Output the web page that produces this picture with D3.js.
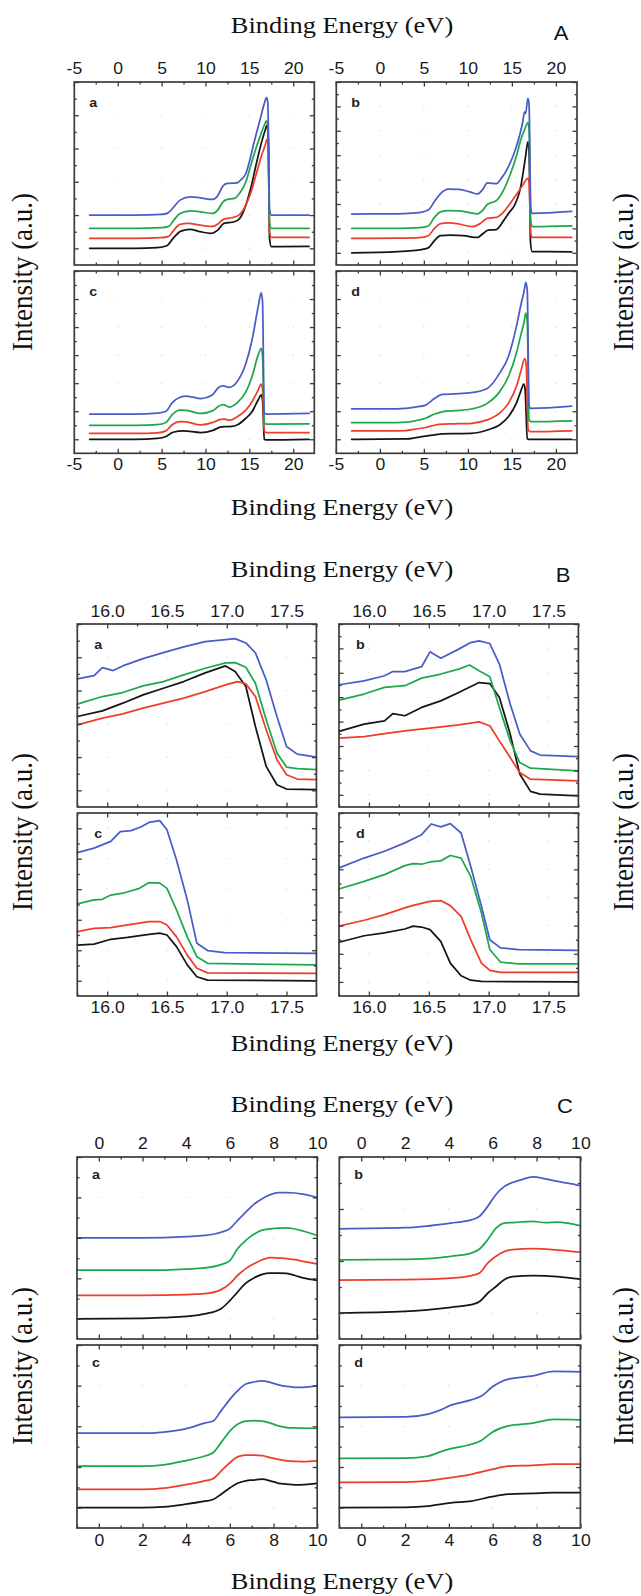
<!DOCTYPE html>
<html>
<head>
<meta charset="utf-8">
<script src="https://cdn.jsdelivr.net/npm/d3@7"></script>
<style>
  html, body { margin: 0; padding: 0; background: #fff; }
  svg { display: block; }
</style>
</head>
<body>
<svg id="chart" width="641" height="1596"></svg>
<script>
// ---------------- DATA ----------------
const seriesOrder = ["black", "red", "green", "blue"];
const seriesColors = { black: "#151515", red: "#ef3d2c", green: "#1ea84b", blue: "#4a5cc6" };

// Section A : full valence band (-5 .. 22 eV)
const A_xTicks = [-5, 0, 5, 10, 15, 20];
const A_xMinor = [-2.5, 2.5, 7.5, 12.5, 17.5];
const A_a_blue  = [[-3.2,1.0],[2,1.0],[5,1.02],[5.7,1.06],[6.4,1.25],[7.1,1.45],[8.3,1.55],[9.4,1.52],[10.8,1.47],[11.4,1.58],[12.0,1.88],[12.5,1.95],[13.6,1.97],[14.0,2.05],[14.6,2.25],[15.0,2.6],[15.5,3.15],[16.2,3.85],[16.7,4.35],[16.95,4.53],[17.1,4.4],[17.3,1.2],[17.5,1.0],[21.8,1.0]];
const A_a_green = [[-3.2,0.6],[2,0.6],[5,0.62],[5.8,0.66],[6.4,0.85],[7.1,1.05],[8.3,1.13],[9.4,1.1],[10.8,1.05],[11.4,1.15],[12.0,1.4],[12.5,1.47],[13.3,1.5],[14.0,1.7],[14.6,2.0],[15.0,2.35],[15.5,2.8],[16.2,3.35],[16.7,3.7],[16.95,3.83],[17.1,3.7],[17.3,0.8],[17.5,0.6],[21.8,0.6]];
const A_a_red   = [[-3.2,0.3],[2,0.3],[5,0.32],[5.8,0.36],[6.4,0.55],[7.1,0.72],[8.0,0.75],[9.4,0.7],[10.8,0.66],[11.5,0.75],[12.1,0.88],[13.0,0.92],[13.8,1.0],[14.6,1.3],[15.2,1.7],[15.8,2.25],[16.4,2.8],[16.8,3.1],[17.0,3.27],[17.15,3.1],[17.3,0.5],[17.5,0.33],[21.8,0.33]];
const A_a_black = [[-3.2,0],[2,0],[4.5,0.02],[5.6,0.08],[6.3,0.3],[7.2,0.52],[8.2,0.57],[9.4,0.5],[10.6,0.45],[11.4,0.55],[12.1,0.75],[13.3,0.8],[13.9,0.9],[14.6,1.3],[15.2,1.85],[15.8,2.55],[16.4,3.2],[16.8,3.55],[17.0,3.7],[17.15,3.4],[17.3,0.3],[17.5,0.05],[21.8,0.06]];

const A_b_blue  = [[-3.2,1.59],[2,1.6],[4.5,1.65],[5.5,1.75],[6.2,2.1],[6.9,2.43],[7.8,2.61],[9.0,2.6],[10.2,2.5],[11.1,2.41],[11.7,2.6],[12.2,2.87],[12.7,2.85],[13.2,2.83],[13.8,3.05],[14.6,3.52],[15.5,4.34],[16.2,5.3],[16.45,5.78],[16.55,5.7],[16.82,6.33],[16.95,6.1],[17.15,1.8],[17.3,1.62],[21.8,1.7]];
const A_b_green = [[-3.2,1.0],[2,1.0],[4.5,1.03],[5.5,1.1],[6.2,1.45],[6.9,1.68],[7.8,1.73],[9.0,1.72],[10.2,1.65],[11.1,1.6],[11.7,1.75],[12.2,1.98],[13.3,2.16],[14.1,2.6],[14.8,3.2],[15.6,4.07],[16.0,4.62],[16.4,5.0],[16.82,5.33],[16.95,5.1],[17.15,1.3],[17.3,1.07],[21.8,1.1]];
const A_b_red   = [[-3.2,0.59],[2,0.6],[4.5,0.62],[5.5,0.7],[6.2,1.0],[6.9,1.2],[7.8,1.23],[9.0,1.18],[10.5,1.07],[11.4,1.2],[12.2,1.41],[13.2,1.45],[14.0,1.65],[14.8,2.02],[15.6,2.43],[16.2,2.75],[16.82,3.05],[16.95,2.9],[17.15,0.8],[17.3,0.63],[21.8,0.63]];
const A_b_black = [[-3.2,0],[2,0.05],[4.5,0.12],[5.5,0.2],[6.2,0.5],[6.9,0.7],[8,0.72],[9.5,0.7],[11.1,0.63],[11.7,0.78],[12.3,0.93],[13.2,0.95],[14.1,1.34],[14.8,1.7],[15.2,1.88],[16.0,2.7],[16.55,3.93],[16.82,4.55],[16.95,4.2],[17.12,0.4],[17.3,0.05],[21.8,0.04]];

const A_c_blue  = [[-3.2,0.9],[2,0.9],[4.5,0.93],[5.5,1.0],[6.2,1.3],[7.1,1.5],[7.8,1.54],[8.6,1.5],[9.45,1.45],[10.2,1.5],[10.85,1.6],[11.5,1.85],[12.0,1.9],[12.7,1.85],[13.6,2.05],[14.6,2.7],[15.3,3.53],[16.0,4.72],[16.35,5.22],[16.5,4.9],[16.7,0.95],[16.9,0.9],[21.8,0.92]];
const A_c_green = [[-3.2,0.5],[2,0.5],[4.5,0.52],[5.5,0.6],[6.2,0.88],[7.1,1.04],[7.8,1.03],[9.45,0.92],[10.85,1.02],[11.5,1.18],[12.0,1.24],[12.7,1.15],[13.6,1.3],[14.6,1.69],[15.3,2.23],[16.0,3.0],[16.35,3.24],[16.5,3.0],[16.7,0.6],[16.9,0.54],[21.8,0.55]];
const A_c_red   = [[-3.2,0.21],[2,0.21],[4.5,0.23],[5.5,0.3],[6.2,0.52],[7.1,0.63],[7.8,0.62],[9.45,0.51],[10.85,0.6],[11.6,0.7],[12.1,0.72],[12.8,0.68],[13.6,0.8],[14.6,1.04],[15.3,1.34],[16.0,1.75],[16.35,1.97],[16.5,1.8],[16.7,0.3],[16.9,0.24],[21.8,0.24]];
const A_c_black = [[-3.2,0],[2,0],[4.5,0.03],[5.5,0.1],[6.3,0.25],[7.5,0.3],[9.45,0.24],[10.85,0.32],[11.7,0.43],[12.2,0.45],[13.0,0.46],[13.6,0.51],[14.6,0.75],[15.3,0.98],[16.0,1.4],[16.35,1.58],[16.5,1.4],[16.7,0.0],[16.9,-0.02],[21.8,0]];

const A_d_blue  = [[-3.2,1.08],[1,1.08],[2.9,1.1],[4.0,1.15],[5.2,1.22],[6.2,1.45],[7.1,1.6],[8.5,1.62],[10.4,1.66],[12.2,1.81],[13.6,2.35],[14.6,2.94],[15.5,4.0],[16.06,4.84],[16.4,5.3],[16.58,5.59],[16.75,5.3],[16.95,1.2],[17.15,1.1],[21.8,1.18]];
const A_d_green = [[-3.2,0.59],[1,0.59],[2.9,0.61],[4,0.66],[5.2,0.75],[6.2,0.9],[7.1,0.98],[8.5,1.02],[10.4,1.08],[12.2,1.28],[13.6,1.69],[14.6,2.23],[15.5,3.06],[16.06,3.77],[16.4,4.2],[16.58,4.5],[16.75,4.2],[16.95,0.7],[17.15,0.63],[21.8,0.66]];
const A_d_red   = [[-3.2,0.3],[1,0.3],[2.9,0.31],[4,0.36],[5.2,0.42],[6.2,0.5],[7.1,0.54],[8.5,0.55],[10.4,0.57],[12.2,0.69],[13.6,0.93],[14.6,1.28],[15.5,1.87],[16.06,2.47],[16.45,2.88],[16.62,2.7],[16.85,0.35],[17.05,0.27],[21.8,0.3]];
const A_d_black = [[-3.2,0],[2.9,0.01],[4.5,0.08],[6.2,0.16],[7.1,0.19],[8.5,0.2],[10.4,0.21],[12.2,0.33],[13.6,0.51],[14.6,0.8],[15.5,1.28],[16.0,1.7],[16.35,1.97],[16.5,1.8],[16.75,0.02],[16.95,0],[21.8,0]];

// Section B : cut-off region (15.75 .. 17.75 eV)
const B_xTicks = [16.0, 16.5, 17.0, 17.5];
const B_xMinor = [15.75, 16.25, 16.75, 17.25, 17.75];
const B_a_blue  = [[15.75,3.35],[15.89,3.45],[15.96,3.69],[16.05,3.6],[16.13,3.74],[16.3,3.96],[16.47,4.14],[16.64,4.31],[16.82,4.47],[16.99,4.53],[17.07,4.56],[17.16,4.43],[17.24,4.13],[17.33,3.32],[17.42,2.22],[17.5,1.32],[17.59,1.09],[17.75,1.0]];
const B_a_green = [[15.75,2.59],[15.96,2.82],[16.13,2.94],[16.3,3.14],[16.47,3.27],[16.64,3.47],[16.82,3.67],[16.99,3.83],[17.07,3.84],[17.16,3.7],[17.24,3.22],[17.33,2.12],[17.42,1.12],[17.5,0.7],[17.59,0.65],[17.75,0.62]];
const B_a_red   = [[15.75,1.97],[15.96,2.17],[16.13,2.3],[16.3,2.47],[16.47,2.62],[16.64,2.77],[16.82,2.97],[16.99,3.17],[17.09,3.27],[17.16,3.2],[17.24,2.82],[17.33,1.82],[17.42,0.92],[17.5,0.47],[17.59,0.34],[17.75,0.32]];
const B_a_black = [[15.75,2.22],[15.96,2.39],[16.13,2.62],[16.3,2.87],[16.47,3.07],[16.64,3.27],[16.82,3.53],[16.99,3.74],[17.07,3.57],[17.16,3.12],[17.24,1.92],[17.33,0.72],[17.42,0.17],[17.5,0.04],[17.75,0.02]];

const B_b_blue  = [[15.75,4.51],[15.96,4.67],[16.13,4.88],[16.2,5.05],[16.3,5.05],[16.44,5.25],[16.51,5.86],[16.6,5.6],[16.75,5.97],[16.85,6.24],[16.92,6.31],[17.01,6.2],[17.09,5.36],[17.18,3.72],[17.26,2.49],[17.35,1.8],[17.43,1.63],[17.75,1.56]];
const B_b_green = [[15.75,3.88],[15.96,4.13],[16.13,4.4],[16.3,4.47],[16.44,4.78],[16.6,4.95],[16.75,5.15],[16.84,5.32],[16.92,5.08],[17.01,4.84],[17.09,3.58],[17.18,2.21],[17.26,1.32],[17.35,1.09],[17.75,0.98]];
const B_b_red   = [[15.75,2.32],[15.96,2.38],[16.13,2.51],[16.3,2.62],[16.51,2.73],[16.75,2.87],[16.92,2.99],[17.01,2.83],[17.09,2.21],[17.18,1.53],[17.26,0.91],[17.35,0.64],[17.75,0.57]];
const B_b_black = [[15.75,2.6],[15.96,2.9],[16.13,3.03],[16.2,3.33],[16.3,3.24],[16.44,3.58],[16.6,3.85],[16.75,4.19],[16.92,4.6],[17.01,4.56],[17.09,3.99],[17.18,2.49],[17.26,0.85],[17.35,0.14],[17.43,0.03],[17.75,-0.04]];

const B_c_blue  = [[15.75,4.2],[15.89,4.35],[16.03,4.57],[16.11,4.89],[16.2,4.92],[16.28,5.04],[16.35,5.19],[16.44,5.25],[16.5,4.95],[16.58,3.96],[16.67,2.65],[16.75,1.23],[16.84,0.99],[16.98,0.92],[17.75,0.9]];
const B_c_green = [[15.75,2.52],[15.89,2.65],[15.96,2.67],[16.03,2.81],[16.13,2.87],[16.27,3.03],[16.35,3.22],[16.44,3.2],[16.5,3.03],[16.58,2.32],[16.67,1.44],[16.75,0.79],[16.84,0.57],[17.75,0.52]];
const B_c_red   = [[15.75,1.61],[15.89,1.72],[16.03,1.74],[16.17,1.83],[16.35,1.94],[16.44,1.94],[16.5,1.83],[16.58,1.44],[16.67,0.84],[16.75,0.41],[16.84,0.26],[17.75,0.24]];
const B_c_black = [[15.75,1.17],[15.89,1.2],[16.03,1.36],[16.17,1.42],[16.35,1.52],[16.44,1.56],[16.5,1.5],[16.58,1.12],[16.67,0.52],[16.75,0.13],[16.84,0.02],[17.75,0]];

const B_d_blue  = [[15.75,4.05],[15.96,4.4],[16.13,4.64],[16.3,4.94],[16.44,5.23],[16.52,5.61],[16.6,5.51],[16.68,5.62],[16.77,5.29],[16.85,4.11],[16.94,2.69],[17.01,1.5],[17.1,1.21],[17.25,1.15],[17.75,1.12]];
const B_d_green = [[15.75,3.3],[15.96,3.57],[16.13,3.81],[16.3,4.13],[16.37,4.2],[16.44,4.18],[16.51,4.26],[16.6,4.3],[16.68,4.49],[16.77,4.4],[16.85,3.75],[16.94,2.45],[17.01,1.15],[17.1,0.7],[17.25,0.64],[17.75,0.64]];
const B_d_red   = [[15.75,1.98],[15.96,2.19],[16.13,2.39],[16.3,2.63],[16.37,2.72],[16.51,2.86],[16.6,2.89],[16.68,2.71],[16.77,2.33],[16.85,1.5],[16.94,0.67],[17.01,0.41],[17.1,0.34],[17.75,0.34]];
const B_d_black = [[15.75,1.41],[15.96,1.64],[16.13,1.74],[16.3,1.88],[16.37,1.98],[16.44,1.95],[16.51,1.86],[16.6,1.44],[16.68,0.67],[16.77,0.22],[16.85,0.06],[16.94,0.02],[17.75,0]];

// Section C : valence band edge (-1 .. 10 eV)
const C_xTicks = [0, 2, 4, 6, 8, 10];
const C_xMinor = [-1, 1, 3, 5, 7, 9];
const C_a_blue  = [[-1,2.0],[2,2.0],[4,2.03],[4.85,2.06],[5.6,2.14],[6.0,2.23],[6.35,2.43],[6.73,2.64],[7.1,2.83],[7.48,2.97],[7.85,3.07],[8.23,3.12],[8.6,3.12],[8.98,3.11],[9.35,3.08],[10,3.0]];
const C_a_green = [[-1,1.2],[2,1.2],[4,1.23],[4.85,1.26],[5.6,1.34],[6.0,1.44],[6.35,1.73],[6.73,1.94],[7.1,2.09],[7.48,2.19],[7.85,2.22],[8.23,2.24],[8.6,2.25],[8.98,2.22],[9.35,2.17],[10,2.06]];
const C_a_red   = [[-1,0.58],[2,0.58],[4,0.6],[4.85,0.62],[5.6,0.72],[6.0,0.87],[6.35,1.07],[6.73,1.24],[7.1,1.36],[7.48,1.46],[7.85,1.51],[8.23,1.5],[8.6,1.49],[8.98,1.46],[9.35,1.42],[10,1.36]];
const C_a_black = [[-1,0],[2,0.01],[3,0.03],[4,0.06],[4.85,0.12],[5.6,0.25],[6.0,0.45],[6.35,0.66],[6.73,0.88],[7.1,1.01],[7.48,1.1],[7.85,1.13],[8.23,1.13],[8.6,1.12],[8.98,1.07],[9.35,1.01],[10,0.95]];

const C_b_blue  = [[-1,1.62],[2,1.64],[4.09,1.73],[5.02,1.79],[5.4,1.86],[5.77,2.05],[6.15,2.28],[6.52,2.43],[6.9,2.51],[7.27,2.56],[7.84,2.62],[8.4,2.58],[8.96,2.53],[9.53,2.49],[10,2.45]];
const C_b_green = [[-1,1.02],[2,1.03],[4.09,1.09],[5.02,1.15],[5.4,1.23],[5.77,1.41],[6.15,1.63],[6.52,1.73],[6.9,1.74],[7.27,1.75],[7.84,1.76],[8.4,1.74],[8.96,1.75],[9.53,1.72],[10,1.68]];
const C_b_red   = [[-1,0.63],[2,0.64],[4.09,0.67],[5.02,0.72],[5.4,0.77],[5.77,0.96],[6.15,1.09],[6.52,1.18],[6.9,1.22],[7.84,1.24],[8.96,1.21],[10,1.17]];
const C_b_black = [[-1,0],[2,0.03],[4.09,0.11],[5.02,0.16],[5.4,0.22],[5.77,0.38],[6.15,0.51],[6.52,0.64],[6.9,0.7],[7.84,0.72],[8.96,0.7],[10,0.65]];

const C_c_blue  = [[-1,1.83],[2,1.83],[2.97,1.86],[3.91,1.93],[4.85,2.08],[5.23,2.13],[5.6,2.38],[6.01,2.67],[6.35,2.87],[6.73,3.04],[7.1,3.09],[7.48,3.12],[7.85,3.08],[8.23,3.02],[8.6,2.98],[8.98,2.96],[9.35,2.96],[10,3.0]];
const C_c_green = [[-1,1.02],[2,1.02],[2.97,1.05],[3.91,1.15],[4.85,1.27],[5.23,1.35],[5.6,1.6],[6.01,1.89],[6.35,2.05],[6.73,2.13],[7.1,2.14],[7.48,2.13],[7.85,2.08],[8.23,2.01],[8.6,1.97],[8.98,1.96],[10,1.95]];
const C_c_red   = [[-1,0.45],[2,0.45],[2.97,0.48],[3.91,0.56],[4.85,0.66],[5.23,0.71],[5.6,0.9],[6.01,1.11],[6.35,1.25],[6.73,1.29],[7.1,1.29],[7.48,1.28],[7.85,1.23],[8.6,1.15],[9.35,1.13],[10,1.15]];
const C_c_black = [[-1,0],[2,0],[2.97,0.02],[3.91,0.08],[4.85,0.16],[5.23,0.2],[5.6,0.33],[6.01,0.49],[6.35,0.6],[6.73,0.66],[7.1,0.68],[7.48,0.7],[7.85,0.66],[8.23,0.6],[8.6,0.58],[8.98,0.56],[10,0.6]];

const C_d_blue  = [[-1,2.22],[2.02,2.23],[3.05,2.3],[3.6,2.4],[4.09,2.52],[5.02,2.65],[5.5,2.75],[5.96,2.96],[6.71,3.16],[7.84,3.24],[8.78,3.35],[10,3.34]];
const C_d_green = [[-1,1.21],[2.02,1.22],[3.05,1.27],[3.6,1.37],[4.09,1.45],[5.02,1.56],[5.5,1.66],[5.96,1.85],[6.71,2.01],[7.84,2.08],[8.78,2.17],[10,2.16]];
const C_d_red   = [[-1,0.62],[2.02,0.63],[3.05,0.66],[4.09,0.74],[5.02,0.82],[5.96,0.94],[6.71,1.02],[7.84,1.04],[8.78,1.07],[10,1.07]];
const C_d_black = [[-1,0],[2.02,0.01],[3.05,0.04],[4.09,0.12],[5.02,0.16],[5.96,0.27],[6.71,0.33],[7.84,0.35],[8.78,0.37],[10,0.37]];

const panelLetters = ["a", "b", "c", "d"];
const xTitle = "Binding Energy (eV)";
const yTitle = "Intensity (a.u.)";

// ---------------- LAYOUT / DRAWING ----------------
const svg = d3.select("#chart");
const SERIF = "'Liberation Serif','Times New Roman',serif";
const SANS = "'Liberation Sans',Arial,sans-serif";
const STRETCH = 1.1;

const sections = [
  { name: "A", xDomain: [-4.95, 22.4], xTicks: A_xTicks, xMinor: A_xMinor, fmt: d => String(d), curve: d3.curveMonotoneX,
    cols: [[74.3, 314.3], [336.3, 577]], rows: [[82, 265], [271, 453.3]],
    yDomains: [[-0.5, 5], [-0.5, 7], [-0.5, 6], [-0.5, 6]],
    data: [{blue:A_a_blue,green:A_a_green,red:A_a_red,black:A_a_black},{blue:A_b_blue,green:A_b_green,red:A_b_red,black:A_b_black},
           {blue:A_c_blue,green:A_c_green,red:A_c_red,black:A_c_black},{blue:A_d_blue,green:A_d_green,red:A_d_red,black:A_d_black}],
    titleTop: 33, titleBottom: 515, letterX: 561, letterY: 39.5, labelY: 272, topPad: 7.7, botPad: 5.5, letterDy: 24.5, letterDx: 15 },
  { name: "B", xDomain: [15.75, 17.75], xTicks: B_xTicks, xMinor: B_xMinor, fmt: d3.format(".1f"), curve: d3.curveLinear,
    cols: [[77.3, 316.4], [339, 578.4]], rows: [[624, 807], [813, 996]],
    yDomains: [[-0.5, 5], [-0.5, 7], [-0.5, 5.5], [-0.5, 6]],
    data: [{blue:B_a_blue,green:B_a_green,red:B_a_red,black:B_a_black},{blue:B_b_blue,green:B_b_green,red:B_b_red,black:B_b_black},
           {blue:B_c_blue,green:B_c_green,red:B_c_red,black:B_c_black},{blue:B_d_blue,green:B_d_green,red:B_d_red,black:B_d_black}],
    titleTop: 576.7, titleBottom: 1051, letterX: 563, letterY: 581.7, labelY: 832, topPad: 7.3, botPad: 6, letterDy: 25, letterDx: 17 },
  { name: "C", xDomain: [-1, 10], xTicks: C_xTicks, xMinor: C_xMinor, fmt: d => String(d), curve: d3.curveMonotoneX,
    cols: [[77, 317.2], [339.3, 580.4]], rows: [[1157, 1339], [1345, 1528]],
    yDomains: [[-0.5, 4], [-0.5, 3], [-0.5, 4], [-0.5, 4]],
    data: [{blue:C_a_blue,green:C_a_green,red:C_a_red,black:C_a_black},{blue:C_b_blue,green:C_b_green,red:C_b_red,black:C_b_black},
           {blue:C_c_blue,green:C_c_green,red:C_c_red,black:C_c_black},{blue:C_d_blue,green:C_d_green,red:C_d_red,black:C_d_black}],
    titleTop: 1111.7, titleBottom: 1589, letterX: 565, letterY: 1113, labelY: 1366, topPad: 8, botPad: 6.7, letterDy: 21.5, letterDx: 15 }
];

const FRAME = "#3b3b3b";
const MAJ = 4.5, MIN = 2.5;

function styleAxis(a, withLabels) {
  a.select(".domain").remove();
  a.selectAll(".tick line").attr("stroke", FRAME).attr("stroke-width", 1.3);
  if (withLabels) {
    a.attr("font-family", SANS).attr("font-size", 16);
    a.selectAll(".tick text").attr("fill", "#1a1a1a").attr("transform", `scale(${STRETCH},1)`);
  } else {
    a.selectAll(".tick text").remove();
  }
}

function addAxis(g, axisGen, scale, vals, size, tr, labels, fmt, pad) {
  const ax = axisGen(scale).tickValues(vals).tickSize(-size).tickSizeOuter(0).tickPadding(pad || 0);
  ax.tickFormat(labels ? fmt : () => "");
  const a = g.append("g").attr("transform", tr).call(ax);
  styleAxis(a, labels);
}

sections.forEach(sec => {
  const root = svg.append("g").attr("class", "section-" + sec.name);
  for (let i = 0; i < 4; i++) {
    const col = sec.cols[i % 2], row = sec.rows[Math.floor(i / 2)];
    const yd = sec.yDomains[i];
    const x = d3.scaleLinear().domain(sec.xDomain).range(col);
    const y = d3.scaleLinear().domain(yd).range([row[1], row[0]]);
    const g = root.append("g");
    const yMaj = d3.range(Math.ceil(yd[0]), yd[1] + 1e-9, 1);
    const yMinorVals = d3.range(Math.ceil(yd[0]) - 0.5, yd[1], 1).filter(v => v > yd[0] && v < yd[1]);

    // faint grid dots at major intersections
    const dots = [];
    sec.xTicks.forEach(xv => { if (xv > sec.xDomain[0] && xv < sec.xDomain[1]) yMaj.forEach(yv => { if (yv > yd[0] && yv < yd[1]) dots.push([xv, yv]); }); });
    g.selectAll("circle.grid").data(dots).join("circle").attr("class", "grid")
      .attr("cx", d => x(d[0])).attr("cy", d => y(d[1])).attr("r", 0.8).attr("fill", "#d3e3ea");

    // curves
    const line = d3.line().x(d => x(d[0])).y(d => y(d[1])).curve(sec.curve);
    seriesOrder.forEach(s => {
      g.append("path").datum(sec.data[i][s]).attr("d", line)
        .attr("fill", "none").attr("stroke", seriesColors[s]).attr("stroke-width", 1.75)
        .attr("stroke-linejoin", "round").attr("stroke-linecap", "round");
    });

    const isTop = i < 2;
    addAxis(g, d3.axisTop, x, sec.xTicks, MAJ, `translate(0,${row[0]})`, isTop, sec.fmt, sec.topPad);
    addAxis(g, d3.axisTop, x, sec.xMinor, MIN, `translate(0,${row[0]})`, false);
    addAxis(g, d3.axisBottom, x, sec.xTicks, MAJ, `translate(0,${row[1]})`, !isTop, sec.fmt, sec.botPad);
    addAxis(g, d3.axisBottom, x, sec.xMinor, MIN, `translate(0,${row[1]})`, false);
    addAxis(g, d3.axisLeft, y, yMaj, MAJ, `translate(${col[0]},0)`, false);
    addAxis(g, d3.axisLeft, y, yMinorVals, MIN, `translate(${col[0]},0)`, false);
    addAxis(g, d3.axisRight, y, yMaj, MAJ, `translate(${col[1]},0)`, false);
    addAxis(g, d3.axisRight, y, yMinorVals, MIN, `translate(${col[1]},0)`, false);

    g.append("rect").attr("x", col[0]).attr("y", row[0]).attr("width", col[1] - col[0]).attr("height", row[1] - row[0])
      .attr("fill", "none").attr("stroke", FRAME).attr("stroke-width", 1.7);

    g.append("text").attr("transform", `translate(${col[0] + sec.letterDx},${row[0] + sec.letterDy}) scale(${STRETCH},1)`)
      .attr("font-family", SANS).attr("font-weight", "bold").attr("font-size", 13).attr("fill", "#222")
      .text(panelLetters[i]);
  }

  const midX = 342;
  [sec.titleTop, sec.titleBottom].forEach(ty => {
    root.append("text").attr("transform", `translate(${midX},${ty}) scale(${STRETCH},1)`)
      .attr("text-anchor", "middle").attr("font-family", SERIF).attr("font-size", 24).attr("fill", "#111")
      .text(xTitle);
  });
  root.append("text").attr("transform", `translate(${sec.letterX},${sec.letterY}) scale(${STRETCH},1)`)
    .attr("text-anchor", "middle").attr("font-family", SANS).attr("font-size", 20).attr("fill", "#111")
    .text(sec.name);
  [31.5, 633].forEach(lx => {
    root.append("text").attr("transform", `translate(${lx},${sec.labelY}) rotate(-90) scale(1,${STRETCH})`)
      .attr("text-anchor", "middle").attr("font-family", SERIF).attr("font-size", 27).attr("fill", "#111")
      .text(yTitle);
  });
});
</script>
</body>
</html>
